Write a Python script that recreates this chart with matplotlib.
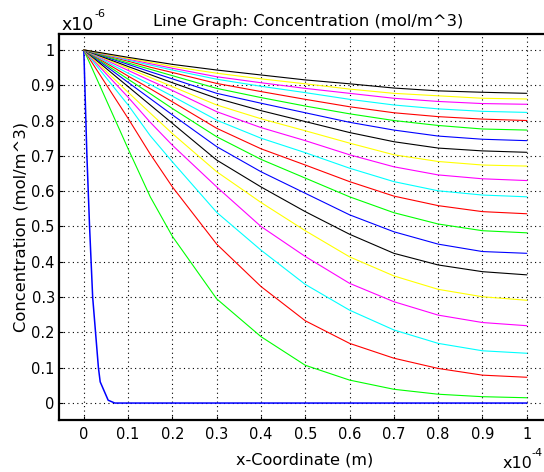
import matplotlib
matplotlib.use('Agg')
import matplotlib.pyplot as plt

x_grid = [0.0, 0.1, 0.15, 0.2, 0.3, 0.4, 0.5, 0.6, 0.7, 0.8, 0.9, 1.0]

# first time step: steep front near x = 0
x_t0 = [0.0, 0.007, 0.013, 0.02, 0.033, 0.037, 0.055, 0.07, 1.0]
c_t0 = [1.0, 0.70, 0.50, 0.30, 0.10, 0.06, 0.008, 0.0, 0.0]

# later time steps (concentration, units of 1e-6 mol/m^3), bottom to top
c_t01 = [1.0, 0.720, 0.584, 0.472, 0.295, 0.188, 0.107, 0.065, 0.039, 0.025, 0.018, 0.015]
c_t02 = [1.0, 0.806, 0.705, 0.612, 0.450, 0.330, 0.233, 0.169, 0.127, 0.098, 0.079, 0.073]
c_t03 = [1.0, 0.844, 0.757, 0.683, 0.540, 0.433, 0.336, 0.263, 0.207, 0.169, 0.148, 0.141]
c_t04 = [1.0, 0.866, 0.795, 0.730, 0.612, 0.500, 0.415, 0.339, 0.287, 0.249, 0.228, 0.219]
c_t05 = [1.0, 0.880, 0.821, 0.763, 0.655, 0.568, 0.488, 0.414, 0.360, 0.322, 0.301, 0.291]
c_t06 = [1.0, 0.896, 0.844, 0.792, 0.688, 0.612, 0.542, 0.478, 0.424, 0.391, 0.372, 0.363]
c_t07 = [1.0, 0.908, 0.862, 0.816, 0.726, 0.655, 0.594, 0.533, 0.485, 0.450, 0.429, 0.424]
c_t08 = [1.0, 0.917, 0.876, 0.834, 0.754, 0.690, 0.637, 0.584, 0.539, 0.507, 0.488, 0.482]
c_t09 = [1.0, 0.926, 0.890, 0.853, 0.778, 0.720, 0.674, 0.627, 0.586, 0.559, 0.542, 0.536]
c_t10 = [1.0, 0.934, 0.902, 0.869, 0.801, 0.750, 0.709, 0.665, 0.627, 0.601, 0.589, 0.584]
c_t11 = [1.0, 0.942, 0.913, 0.885, 0.825, 0.780, 0.743, 0.703, 0.669, 0.646, 0.635, 0.630]
c_t12 = [1.0, 0.948, 0.922, 0.896, 0.844, 0.805, 0.771, 0.736, 0.703, 0.684, 0.674, 0.671]
c_t13 = [1.0, 0.953, 0.930, 0.907, 0.863, 0.828, 0.797, 0.766, 0.740, 0.722, 0.714, 0.710]
c_t14 = [1.0, 0.959, 0.938, 0.918, 0.877, 0.849, 0.822, 0.795, 0.773, 0.756, 0.747, 0.743]
c_t15 = [1.0, 0.963, 0.945, 0.927, 0.891, 0.865, 0.841, 0.819, 0.800, 0.786, 0.776, 0.773]
c_t16 = [1.0, 0.968, 0.951, 0.936, 0.905, 0.882, 0.860, 0.839, 0.822, 0.811, 0.804, 0.800]
c_t17 = [1.0, 0.971, 0.957, 0.943, 0.917, 0.897, 0.879, 0.860, 0.844, 0.833, 0.826, 0.823]
c_t18 = [1.0, 0.974, 0.961, 0.948, 0.924, 0.907, 0.891, 0.877, 0.863, 0.854, 0.848, 0.846]
c_t19 = [1.0, 0.976, 0.965, 0.953, 0.934, 0.918, 0.904, 0.889, 0.877, 0.870, 0.863, 0.861]
c_t20 = [1.0, 0.979, 0.969, 0.959, 0.943, 0.929, 0.915, 0.904, 0.892, 0.884, 0.880, 0.877]

later = [c_t01, c_t02, c_t03, c_t04, c_t05, c_t06, c_t07, c_t08, c_t09, c_t10,
         c_t11, c_t12, c_t13, c_t14, c_t15, c_t16, c_t17, c_t18, c_t19, c_t20]

# MATLAB-style colour cycle
cycle = ['#0000ff', '#00ff00', '#ff0000', '#00ffff', '#ff00ff', '#ffff00', '#000000']

x_ticks = [0, 0.1, 0.2, 0.3, 0.4, 0.5, 0.6, 0.7, 0.8, 0.9, 1]
y_ticks = [0, 0.1, 0.2, 0.3, 0.4, 0.5, 0.6, 0.7, 0.8, 0.9, 1]

W, H = 544, 472
fig = plt.figure(figsize=(W / 100, H / 100), dpi=100)
fig.patch.set_edgecolor('none')
# right edge of the axes lies past the picture, as in the original
ax = fig.add_axes([59 / W, 52 / H, 520 / W, 386 / H])
ax.patch.set_edgecolor('none')
ax.patch.set_linewidth(0)

ax.plot(x_t0, c_t0, color=cycle[0], linewidth=1.1)
for i, c in enumerate(later):
    ax.plot(x_grid, c, color=cycle[(i + 1) % len(cycle)], linewidth=0.8)

ax.set_xlim(-0.056, 1.118)
ax.set_ylim(-0.048, 1.045)
ax.set_xticks(x_ticks)
ax.set_yticks(y_ticks)
ax.set_xticklabels([f'{t:g}' for t in x_ticks])
ax.set_yticklabels([f'{t:g}' for t in y_ticks])
ax.tick_params(direction='in', length=3, labelsize=10.5)
ax.tick_params(axis='x', pad=5)
ax.tick_params(axis='y', pad=3)
ax.grid(True, color='black', linestyle=(0, (1, 3)), linewidth=0.8)
for sp in ax.spines.values():
    sp.set_linewidth(1.6)
ax.spines['right'].set_visible(False)

ax.set_title('Line Graph: Concentration (mol/m^3)', fontsize=11.8, pad=6, x=0.479)
ax.set_xlabel('x-Coordinate (m)', fontsize=11.6, labelpad=8)
ax.xaxis.set_label_coords(0.473, -0.085)
ax.set_ylabel('Concentration (mol/m^3)', fontsize=11.8, labelpad=2)

# exponent labels, drawn the way the original shows them
fig.text(62 / W, 1 - 30 / H, 'x10', fontsize=12.5, va='baseline')
fig.text(94 / W, 1 - 17 / H, '-6', fontsize=8, va='baseline')
fig.text(503 / W, 1 - 468 / H, 'x10', fontsize=11.5, va='baseline')
fig.text(531 / W, 1 - 456 / H, '-4', fontsize=8, va='baseline')

fig.savefig('out.png', dpi=100)
